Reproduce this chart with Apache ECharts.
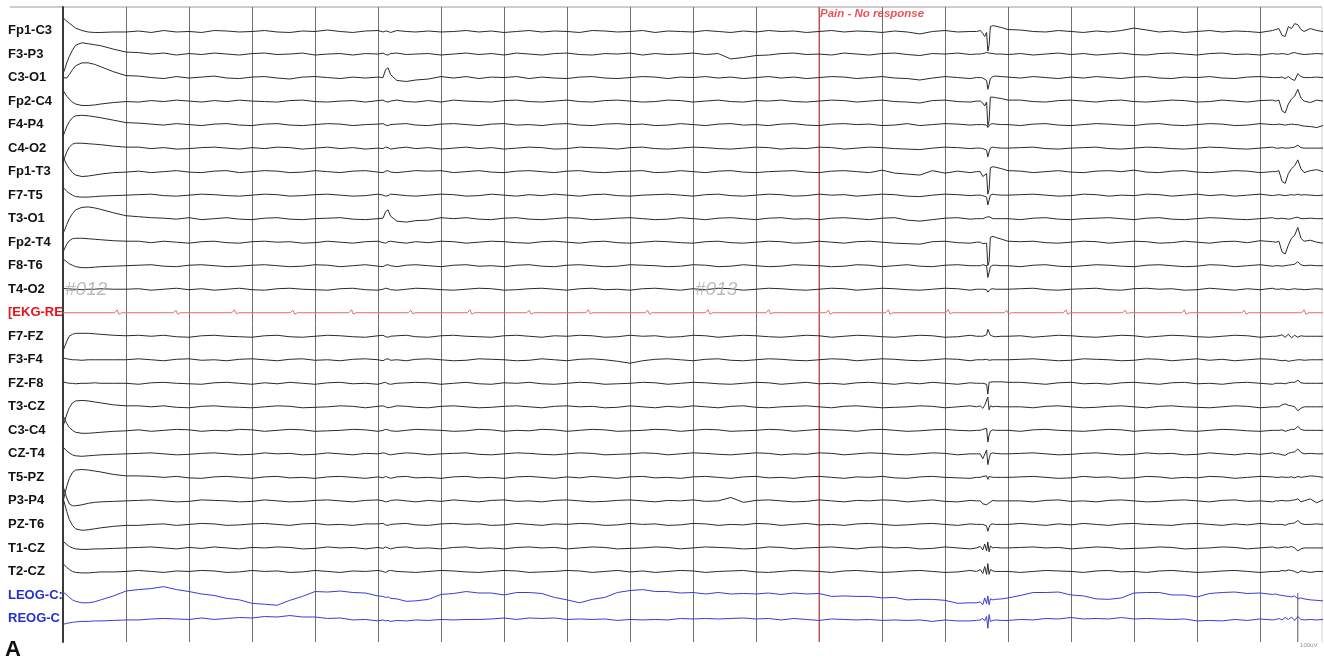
<!DOCTYPE html>
<html><head><meta charset="utf-8">
<script src="https://cdn.jsdelivr.net/npm/echarts@6/dist/echarts.min.js"></script>
<style>html,body{margin:0;padding:0;background:#fff}#c{width:1324px;height:661px}</style>
</head><body><div id="c"></div>
<script>
// ---- time base (seconds), shared by all EEG/EOG channels ----
const times = [
  0, 0.03, 0.06, 0.1, 0.15, 0.2, 0.3, 0.4, 0.5, 0.6, 0.8, 1.0,
  1.2, 1.4, 1.6, 1.8, 2.0, 2.2, 2.4, 2.6, 2.8, 3.0, 3.2, 3.4, 3.6, 3.8, 4.0, 4.2, 4.4, 4.6, 4.8,
  5.0, 5.08, 5.12, 5.16, 5.2, 5.3, 5.45, 5.6,
  5.8, 6.0, 6.2, 6.4, 6.6, 6.8, 7.0, 7.2, 7.4, 7.6, 7.8,
  8.0, 8.2, 8.4, 8.6, 8.8, 9.0, 9.2, 9.4, 9.6, 9.8, 10.0,
  10.2, 10.4, 10.6, 10.8, 11.0, 11.2, 11.4, 11.6, 11.8, 12.0, 12.2,
  12.4, 12.6, 12.8, 13.0, 13.2, 13.4, 13.6, 13.8, 14.0, 14.2, 14.4,
  14.5, 14.56, 14.6, 14.63, 14.66, 14.68, 14.7, 14.72, 14.76, 14.8, 14.9, 15.0,
  15.2, 15.4, 15.6, 15.8, 16.0, 16.2, 16.4, 16.6, 16.8, 17.0,
  17.2, 17.4, 17.6, 17.8, 18.0, 18.2, 18.4, 18.6, 18.8, 19.0, 19.2,
  19.25, 19.3, 19.35, 19.4, 19.45, 19.5, 19.55, 19.6, 19.65, 19.7, 19.8, 19.9, 20.0
];

const channelNames = ['Fp1-C3','F3-P3','C3-O1','Fp2-C4','F4-P4','C4-O2','Fp1-T3','F7-T5','T3-O1','Fp2-T4','F8-T6','T4-O2','[EKG-RE','F7-FZ','F3-F4','FZ-F8','T3-CZ','C3-C4','CZ-T4','T5-PZ','P3-P4','PZ-T6','T1-CZ','T2-CZ','LEOG-C:','REOG-C'];
const channelKind  = ['eeg','eeg','eeg','eeg','eeg','eeg','eeg','eeg','eeg','eeg','eeg','eeg','ekg','eeg','eeg','eeg','eeg','eeg','eeg','eeg','eeg','eeg','eeg','eeg','eog','eog'];

// ---- channel values in microvolts (positive = up) ----
const Fp1_C3 = [26,22,19,15,10,5,0,-3,-4,-4,-3,-3,
 -1,-4,0,-3,-2,-4,0,-1,-3,-2, 0,-3,-4,-1,-2,1,-2,-4,-1,
 0,-3,-1,-2,-4,0,-2,-3,
 -1,-3,-2,0,-3,-1,-4,-2,0,-3,-1, -2,-4,0,-1,-3,-2,0,-4,-1,-2,-3, 0,-2,-4,-1,-3,0,-2,-1,-4,-2,0, -3,-1,-2,-4,-1,-3,-7,-2,0,-3,-2,
 -2,0,-6,-12,-4,-42,-30,8,10,9,6,2,
 1,-2,-3,0,-2,-4,-1,-3,0,5, 1,-3,-1,-4,-2,0,-3,-1,-2,-4,0,
 2,4,-10,-12,8,4,14,12,2,-2,4,0,-2];
const F3_P3 = [-40,-30,-18,-5,8,18,23,21,19,17,10,4,
 3,0,2,-2,1,-1,2,0,-2,1, 2,-1,0,2,-2,0,1,-2,1,
 0,2,-1,-2,1,2,-1,0,
 1,-2,0,2,-1,1,-2,2,0,-2,1, 2,-1,-2,1,0,2,-2,1,-1,0,2, -1,1,-10,-7,-3,-2,1,2,-1,0,-2, 2,0,-2,1,2,-1,-3,1,0,2,-1,
 0,0,1,2,3,5,2,0,1,0,0,-1,
 1,-2,0,2,-1,1,-2,0,2,-1, -2,1,2,0,-2,1,2,-1,0,-2,1,
 0,0,1,0,-1,2,3,1,0,-1,0,1,0];
const C3_O1 = [0,0,-1,6,16,24,30,30,27,22,12,4,
 3,0,-2,2,-1,1,3,-1,-2,1, 2,-1,-3,1,2,0,-2,1,-1,
 1,0,16,20,6,-6,-8,-5,
 -3,2,-1,2,-2,1,0,2,-2,1,-1, -2,1,2,-1,-2,0,2,1,-2,1,0, 2,-1,1,-2,0,2,-1,1,-2,0,2, 1,-2,0,2,-1,-2,-5,-1,2,0,-2,
 0,0,-1,-2,-6,-24,-14,-2,2,3,2,1,
 -1,2,0,-2,1,-1,2,0,-2,1, 2,-1,-2,1,0,2,-1,-2,1,2,0,
 0,0,1,-2,2,-3,-6,8,2,0,0,1,0];
const Fp2_C4 = [22,16,10,4,-2,-6,-9,-9,-8,-6,-3,-1,
 -2,1,-1,2,0,-2,1,-1,2,0, -1,-2,1,2,-1,-2,0,1,-2,
 1,2,-1,-2,0,2,-1,-2,
 1,-2,2,0,-1,-2,1,2,-1,-2,0, 2,-1,-2,1,2,0,-2,-1,2,1,-2, 0,2,-1,-2,1,0,2,-1,-2,0,2, 1,-2,0,2,-1,-2,-4,1,2,-1,-2,
 0,0,-4,-10,-2,-50,-40,8,8,7,5,2,
 2,-1,-2,1,2,0,-2,1,2,-1, -2,0,2,1,-2,-1,2,0,-2,1,2,
 0,2,-20,-24,-6,4,10,24,6,0,-3,2,0];
const F4_P4 = [-24,-14,-4,6,14,18,19,18,16,14,9,4,
 3,1,-1,2,0,-2,1,2,-1,-2, 1,2,-1,-2,0,2,1,-2,0,
 1,2,-1,-2,0,1,2,-1,
 -2,1,2,0,-2,1,2,-1,0,-2,1, 2,-1,-2,1,2,0,1,-2,-1,2,0, -2,1,2,-1,0,-2,1,2,-1,-2,1, 2,0,1,-2,-1,2,-2,0,2,1,-1,
 0,0,0,-2,-1,-6,-3,1,2,1,0,0,
 -2,1,2,-1,-2,0,2,1,-1,-2, 1,2,-1,-2,0,2,1,-2,-1,2,0,
 0,1,0,-1,0,1,0,0,-2,-3,-4,-6,-2];
const C4_O2 = [-28,-18,-8,2,8,10,10,9,8,7,4,2,
 2,-1,1,-2,-1,1,2,0,-2,1, -1,2,1,-2,0,2,-1,1,-2,
 0,-1,2,1,-2,0,2,-1,
 1,-2,0,2,-1,1,-2,0,2,1,-2, -1,2,1,0,-2,1,2,-1,-2,0,2, 1,-1,-2,0,2,1,-2,0,-1,2,1, -2,0,2,1,-1,-2,-3,0,2,1,-1,
 0,0,-1,-2,-4,-18,-8,0,2,1,0,0,
 1,2,-1,-2,0,1,2,-1,-2,0, 2,1,-1,-2,0,2,1,-1,-2,0,2,
 0,0,1,0,0,1,2,6,1,0,0,0,0];
const Fp1_T3 = [30,22,14,6,-2,-7,-10,-9,-7,-5,-2,-1,
 1,-2,0,2,-1,-2,1,2,-2,0, 2,1,-2,-1,2,0,-2,1,2,
 -1,-2,1,2,-1,-2,0,2,
 1,2,-2,0,2,-1,-2,1,2,0,-2, 1,2,-1,-2,0,1,2,-2,-1,2,0, -2,1,2,-1,-2,0,1,2,-1,-2,1, 2,0,-2,3,-3,-5,-7,2,-3,1,-2,
 0,0,-10,-14,-4,-46,-36,8,10,9,6,2,
 1,-2,0,2,-1,-2,1,2,0,3, -1,-2,1,2,-1,-2,0,2,1,-2,0,
 0,2,-20,-24,-4,6,12,24,6,-2,2,4,0];
const F7_T5 = [16,12,8,4,0,-3,-4,-4,-3,-2,-1,0,
 1,2,-1,-2,0,2,1,-1,-2,0, 2,1,-2,-1,1,2,0,-2,-1,
 2,0,-2,-1,2,1,-1,-2,
 0,2,1,-2,-1,2,0,-2,1,-1,2, 0,-2,1,2,-1,-2,0,1,2,0,-2, 1,2,-1,-2,0,2,1,-2,-1,2,0, 1,-2,0,2,1,-2,-3,0,2,1,-1,
 0,0,-1,-2,-4,-20,-10,0,2,1,0,0,
 1,2,0,-2,-1,2,1,-2,0,-1, 2,1,-2,0,2,-1,1,-2,0,2,-1,
 0,1,0,-1,0,1,0,2,0,1,0,-1,0];
const T3_O1 = [-30,-22,-12,0,10,18,23,24,22,19,12,6,
 4,2,1,-1,2,-2,0,2,-1,-2, 1,2,-1,-2,0,1,2,-1,-2,
 0,1,14,18,5,-5,-7,-4,
 -3,2,0,2,-1,-2,1,2,-1,-2,0, 2,1,-2,-1,1,2,0,-2,-1,2,0, -2,1,2,0,-2,1,2,-1,0,-2,1, 2,0,-2,1,2,-3,-5,-2,1,2,-1,
 0,0,0,1,3,6,4,1,0,0,0,0,
 -2,1,2,-1,-2,0,1,2,0,-2, 1,2,-1,-2,0,2,1,-1,-2,0,2,
 0,0,1,0,-1,0,2,3,0,0,1,0,0];
const Fp2_T4 = [-20,-12,-4,3,7,8,8,7,6,5,3,2,
 2,-1,2,0,-2,1,2,-1,-2,1, 2,0,1,-2,-1,2,0,-2,1,
 2,-1,-2,1,2,0,-2,1,
 -1,2,1,-2,0,2,1,-1,-2,1,2, 0,-2,1,2,-1,-2,0,2,1,-1,-2, 1,2,-1,-2,0,2,1,-2,-1,2,0, -2,1,2,0,-2,-3,-4,1,2,-1,-2,
 0,0,-3,-6,-2,-48,-40,10,12,10,6,2,
 1,2,-1,-2,0,2,1,-2,0,2, 1,-2,-1,2,0,-2,1,2,-1,3,1,
 0,2,-20,-24,-6,8,14,30,8,2,4,0,-2];
const F8_T6 = [14,11,8,4,1,-2,-4,-4,-3,-2,-1,0,
 1,2,-1,-2,1,2,0,-2,-1,1, 2,0,-2,-1,2,1,-2,0,2,
 -1,-2,1,2,0,-2,1,2,
 0,-2,1,2,-1,0,-2,1,2,-1,-2, 1,2,0,-2,-1,2,1,0,-2,-1,2, 1,-2,-1,2,0,-2,-1,2,1,0,-2, -1,2,1,-2,0,2,-1,-2,1,2,0,
 0,0,2,3,0,-24,-14,-2,1,1,0,0,
 -2,1,2,-1,-2,0,2,1,-1,-2, 1,2,0,-2,-1,2,1,-2,0,2,-1,
 0,0,-1,0,1,2,3,8,2,0,1,0,0];
const T4_O2 = [2,2,1,1,0,0,-1,0,0,1,0,0,
 1,-2,0,2,-1,1,-2,0,2,-1, -2,1,2,0,-1,-2,1,2,-1,
 -2,0,2,1,-1,-2,0,2,
 1,-1,-2,0,2,1,-2,-1,1,2,0, -2,1,2,-1,0,-2,1,2,0,-2,1, -1,2,1,-2,0,2,1,-1,-2,0,2, 1,-2,0,2,1,-1,-2,0,2,1,-2,
 0,0,0,0,-1,-6,-3,0,1,0,0,0,
 1,2,-1,-2,0,1,2,-1,-2,1, 2,0,1,-2,-1,2,0,-2,1,-1,2,
 0,0,1,0,-1,0,1,0,0,-1,0,1,0];
const F7_FZ = [-30,-20,-10,0,4,6,6,6,5,4,2,1,
 2,0,2,-1,-2,1,2,0,-1,-2, 1,2,-1,-2,0,2,1,-1,-2,
 1,2,-1,-2,0,1,2,-1,
 -2,1,2,0,-1,-2,1,2,0,-2,1, 0,2,1,-2,-1,2,0,1,-2,-1,2, 1,-2,0,2,1,-1,-2,0,2,1,-2, 0,2,1,-1,-2,0,2,1,-2,-1,2,
 0,0,0,1,3,14,8,2,0,-1,0,0,
 1,-2,0,2,1,-1,-2,0,2,1, -2,0,2,1,-1,-2,0,2,1,-2,0,
 0,1,3,-2,4,-3,2,-2,1,0,0,0,0];
const F3_F4 = [4,3,2,1,0,0,-1,0,0,0,0,0,
 2,0,-2,1,2,-1,0,-2,1,2, 0,-2,1,2,-1,0,-2,1,2,
 0,-2,1,2,-1,0,-2,1,
 2,0,-2,-1,2,1,0,-2,-1,2,0, -2,1,2,0,-3,-7,-2,1,2,0,-2, 1,2,-1,-2,0,2,1,-1,-2,0,2, 1,-2,0,2,1,-1,-2,0,2,1,-2,
 0,0,0,0,1,2,-1,0,0,0,0,0,
 1,2,0,-2,-1,2,1,0,-2,-1, 2,1,-2,0,2,-1,1,-2,0,2,1,
 0,-1,-2,-1,-3,-2,-1,0,0,-1,0,0,0];
const FZ_F8 = [3,2,1,0,0,-1,0,0,1,0,0,0,
 -2,1,2,0,-1,-2,1,2,0,-2, 1,-1,2,0,-2,1,2,-1,0,
 -2,1,2,-1,-2,0,1,2,
 1,-2,0,2,-1,-2,1,0,2,-1,-2, 0,2,1,-2,-1,0,2,1,-2,0,2, 1,-1,-2,0,2,1,-2,0,2,-1,0, -2,1,2,0,-2,1,-1,2,0,-2,1,
 0,0,0,0,-2,-22,2,3,3,3,3,2,
 2,0,-2,1,2,-1,0,-2,1,2, 0,-2,1,2,-1,0,-2,1,2,0,-2,
 0,0,0,-1,1,2,2,6,1,0,0,0,0];
const T3_CZ = [-40,-28,-15,-2,8,12,13,12,10,8,4,2,
 2,0,2,-1,-2,1,2,0,-1,-2, 0,2,1,-2,-1,0,2,1,-2,
 1,2,0,-2,-1,2,1,-1,
 -2,1,2,0,-2,-1,1,2,0,-2,1, 2,0,1,-2,-1,2,0,-2,1,-1,2, 0,-2,1,2,-1,-2,0,1,2,0,-2, 1,2,0,-2,-1,0,2,1,-2,0,2,
 0,2,-3,3,6,20,-6,2,0,1,0,0,
 0,-2,1,2,0,-2,-1,1,2,0, -2,1,2,0,-1,-2,0,2,1,-2,0,
 0,0,4,6,3,2,0,-8,-3,0,0,0,0];
const C3_C4 = [30,22,14,6,0,-4,-6,-6,-5,-4,-2,-1,
 1,-2,0,2,1,-2,0,-1,2,1, -2,0,2,1,-2,-1,0,2,1,
 -2,0,2,1,-1,-2,0,2,
 1,0,-2,-1,2,1,-2,0,-1,2,1, -2,0,2,1,-2,-1,0,2,1,-2,0, 2,1,-2,-1,0,2,1,-2,0,2,1, 0,-2,1,2,0,-2,-1,1,2,0,-1,
 0,0,2,3,4,-24,-10,-2,1,0,0,0,
 -2,1,2,0,-1,-2,0,2,1,-2, 0,1,2,-1,-2,0,2,1,-1,-2,0,
 0,0,1,-2,0,2,2,8,2,0,0,0,0];
const CZ_T4 = [14,10,6,2,-2,-4,-5,-4,-3,-2,-1,0,
 1,2,0,-2,-1,1,2,0,-2,-1, 2,0,1,-2,-1,2,0,-2,1,
 0,2,1,-1,-2,0,2,1,
 -2,0,1,2,-1,-2,0,2,1,-1,-2, 0,2,1,-2,-1,0,2,1,-2,0,2, 1,-1,-2,0,2,1,-2,0,-1,2,1, -2,0,2,1,-1,-2,0,2,1,-2,0,
 0,0,-10,-6,8,-22,-10,0,2,1,0,0,
 1,2,0,-2,-1,1,2,0,-2,-1, 2,0,1,-2,-1,2,0,-2,1,-1,2,
 0,0,-2,-3,1,3,4,10,3,0,1,0,0];
const T5_PZ = [-50,-34,-18,-2,10,15,16,15,13,11,6,3,
 3,2,0,2,-1,-2,1,2,0,-2, 1,2,-1,0,-2,1,2,0,-2,
 1,-1,2,0,-2,1,2,-1,
 0,-2,1,2,-1,0,-2,1,2,0,-2, 1,-1,2,0,-2,1,2,-1,0,-2,1, 2,0,-2,1,2,-1,0,-2,1,2,0, -2,1,0,2,-1,-2,1,2,0,-1,-2,
 0,0,2,-2,3,-4,2,0,0,0,0,0,
 1,2,0,-2,-1,2,0,1,-2,-1, 2,1,-2,0,-1,2,1,-2,0,2,1,
 0,0,1,0,0,1,-1,2,0,1,3,2,0];
const P3_P4 = [30,18,6,-6,-10,-10,-8,-5,-3,-2,-1,0,
 1,2,0,-2,-1,2,1,0,-2,-1, 2,0,-2,-1,1,2,0,-2,1,
 2,0,-2,-1,1,2,0,-2,
 1,-1,2,0,-2,1,2,-1,0,-2,1, 2,0,-2,-1,1,2,0,-2,1,0,2, -1,0,7,-3,1,2,0,-2,-1,2,0, -2,1,0,2,1,-2,0,2,-1,-2,1,
 0,0,-6,-4,-8,-10,-4,0,1,0,0,0,
 0,-2,1,2,-1,0,-2,1,2,0, -2,-1,1,2,0,-2,1,2,-1,0,-2,
 0,0,1,0,0,1,2,4,-2,0,4,-4,2];
const PZ_T6 = [54,40,26,10,-2,-9,-12,-11,-9,-7,-4,-2,
 -2,0,1,-2,0,2,1,-2,-1,1, 2,0,-2,1,2,-1,0,-2,1,
 1,2,-1,-2,0,1,2,-1,
 -2,1,2,0,1,-2,-1,2,0,-2,1, 0,2,1,-2,-1,2,0,1,-2,-1,2, 1,-2,0,-1,2,1,-2,0,2,-1,0, -2,1,2,0,-2,-1,1,2,0,-2,1,
 0,0,0,-1,-3,-14,-6,0,1,0,0,0,
 2,0,-2,1,-1,2,0,-2,1,2, 0,-1,-2,1,2,0,-2,1,-1,2,0,
 0,0,0,-2,1,2,3,8,2,0,0,1,0];
const T1_CZ = [14,10,7,3,0,-2,-3,-3,-2,-2,-1,0,
 1,2,0,-2,1,-1,2,0,-2,1, 0,2,1,-2,-1,2,0,1,-2,
 1,-1,2,0,-2,1,2,-1,
 0,-2,1,2,-1,0,-2,1,2,0,1, -2,0,2,1,-2,-1,0,2,1,-2,0, 2,1,0,-2,-1,2,1,-2,0,1,2, 0,-2,1,2,0,1,-2,-1,2,0,-2,
 0,3,-4,8,-6,12,-8,4,0,1,0,0,
 1,2,0,1,-2,0,2,1,-2,-1, 0,2,1,-2,-1,0,2,1,-2,0,2,
 0,0,1,2,1,3,0,-6,-2,0,0,0,0];
const T2_CZ = [16,12,8,4,0,-2,-3,-3,-2,-1,-1,0,
 2,0,-2,1,0,2,1,-2,-1,2, 0,1,-2,-1,2,0,-2,1,0,
 2,0,-2,1,2,0,-1,-2,
 0,2,1,-1,-2,0,2,1,-2,-1,0, 2,1,-2,0,2,-1,1,-2,0,2,1, -2,0,1,2,-1,-2,0,2,1,0,-2, 1,2,0,-2,-1,1,2,0,-2,-1,2,
 0,4,-4,10,-6,16,-6,4,1,0,0,0,
 -2,0,2,1,0,-2,1,2,-1,0, -2,1,2,0,-2,-1,1,2,0,-2,0,
 0,0,2,1,3,2,0,-3,1,0,-2,0,0];
const LEOG_C = [6,3,0,-5,-10,-13,-16,-16,-14,-10,-2,8,
 11,13,17,11,7,2,-1,-7,-10,-17, -19,-21,-11,-3,7,6,8,5,4,
 -2,-3,-5,-4,-7,-8,-13,-12,
 -9,1,3,7,4,4,0,5,5,3,-5, -10,-16,-9,-5,5,9,11,7,7,4,5, 2,5,2,3,2,4,1,4,2,3,-3, -2,-3,-3,-6,-5,-10,-9,-9,-11,-17,-16,
 -16,-14,-20,-6,-18,-2,-20,-8,-10,-9,-8,-6,
 -1,5,5,6,0,-2,-8,-9,-6,4, 5,5,0,0,-4,3,5,6,3,4,1,
 2,0,-1,-2,-3,-4,-2,-8,-6,-8,-10,-11,-12];
const REOG_C = [-12,-11,-10,-9,-8,-7,-6,-6,-5,-5,-4,-3,
 -3,-1,0,-1,-2,1,-2,0,2,1, 4,3,6,3,3,0,1,-3,-2,
 -5,-3,-5,-4,-6,-4,-5,-3,
 -4,-2,-3,-2,-2,-1,1,-2,1,0,1, -2,-1,-2,-1,-4,-2,-3,-2,-3,0,-1, 0,-1,0,1,-1,0,-3,0,-2,-4,-1, -2,-3,-2,-4,-3,-4,-3,-6,-3,-5,-5,
 -4,-3,0,-5,4,-20,8,-6,-4,-3,-4,-4,
 -2,-3,0,-1,2,-1,0,-1,2,-1, 0,-1,-2,-1,-5,-4,-5,-2,-4,-1,-3,
 -2,0,-3,2,-2,3,-4,4,-2,-3,-2,-3,-2];

// ---- EKG channel (own time base) ----
const ekgTimes = [0,
 0.82,0.86,0.89,0.93, 1.75,1.79,1.82,1.86, 2.68,2.72,2.75,2.79, 3.61,3.65,3.68,3.72,
 4.54,4.58,4.61,4.65, 5.48,5.52,5.55,5.59, 6.42,6.46,6.49,6.53, 7.36,7.40,7.43,7.47,
 8.30,8.34,8.37,8.41, 9.24,9.28,9.31,9.35, 10.20,10.24,10.27,10.31, 11.16,11.20,11.23,11.27,
 12.11,12.15,12.18,12.22, 13.06,13.10,13.13,13.17, 14.01,14.05,14.08,14.12, 14.94,14.98,15.01,15.05,
 15.88,15.92,15.95,15.99, 16.82,16.86,16.89,16.93, 17.76,17.80,17.83,17.87, 18.71,18.75,18.78,18.82,
 19.66,19.70,19.73,19.77, 20];
const ekgValues = [0,
 0,6,-3,0, 0,5,-3,0, 0,6,-2,0, 0,5,-3,0,
 0,6,-3,0, 0,5,-2,0, 0,6,-3,0, 0,5,-3,0,
 0,6,-2,0, 0,5,-3,0, 0,6,-3,0, 0,6,-2,0,
 0,5,-3,0, 0,6,-3,0, 0,6,-2,0, 0,5,-3,0,
 0,6,-3,0, 0,5,-2,0, 0,6,-3,0, 0,5,-3,0,
 0,6,-3,0, 0];

// ---- annotations ----
const eventMarkers = [{ t: 12, text: 'Pain - No response' }];
const pageMarkers = [{ t: 0, text: '#012' }, { t: 10, text: '#013' }];
const pageMarkerRow = 11;
const scaleBar = { t: 19.6, uV: 100, label: '100uV' };
const uVPerRow = 48;
const panelLabel = 'A';

const channelValues = [Fp1_C3,F3_P3,C3_O1,Fp2_C4,F4_P4,C4_O2,Fp1_T3,F7_T5,T3_O1,Fp2_T4,F8_T6,T4_O2,null,
  F7_FZ,F3_F4,FZ_F8,T3_CZ,C3_C4,CZ_T4,T5_PZ,P3_P4,PZ_T6,T1_CZ,T2_CZ,LEOG_C,REOG_C];

const kindColor = { eeg: '#2a2a2a', ekg: '#e46a6a', eog: '#3b3bd8' };
const labelColor = { eeg: '#111111', ekg: '#e3141b', eog: '#2430d0' };
const FONT = "'Liberation Sans', Arial, sans-serif";
const nRows = channelNames.length;
const rowMax = nRows;

const series = [];
channelNames.forEach((name, i) => {
  const kind = channelKind[i];
  let data;
  if (kind === 'ekg') {
    data = ekgTimes.map((t, k) => [t, i - ekgValues[k] / uVPerRow]);
  } else {
    const v = channelValues[i];
    if (v.length !== times.length) console.warn(name, v.length, times.length);
    data = times.map((t, k) => [t, i - v[k] / uVPerRow]);
  }
  series.push({
    type: 'line', name, data, showSymbol: false, silent: true, animation: false,
    lineStyle: { color: kindColor[kind], width: 1 }, z: 3
  });
});

eventMarkers.forEach(ev => {
  series.push({ type: 'line', data: [[ev.t, -1], [ev.t, rowMax]], showSymbol: false, silent: true,
    animation: false, lineStyle: { color: '#e8494b', width: 1 }, z: 2 });
  series.push({ type: 'scatter', data: [[ev.t, -0.7]], symbolSize: 0, silent: true, animation: false, clip: false,
    label: { show: true, position: 'right', distance: 1, formatter: ev.text, color: '#e8262c',
      fontSize: 11.5, fontStyle: 'italic', fontWeight: 'bold', fontFamily: FONT }, z: 5 });
});
series.push({ type: 'scatter', data: pageMarkers.map(p => [p.t, pageMarkerRow, p.text]), symbolSize: 0,
  silent: true, animation: false, clip: false,
  label: { show: true, position: 'right', distance: 2, formatter: p => p.data[2], color: '#ababab',
    fontSize: 19, fontStyle: 'italic', fontFamily: FONT }, z: 4 });
series.push({ type: 'line', data: [[scaleBar.t, rowMax - scaleBar.uV / uVPerRow], [scaleBar.t, rowMax]],
  showSymbol: false, silent: true, animation: false, lineStyle: { color: '#555', width: 1 }, z: 4 });
series.push({ type: 'scatter', data: [[scaleBar.t + 0.02, rowMax + 0.15]], symbolSize: 0, silent: true,
  animation: false, clip: false,
  label: { show: true, position: 'right', distance: 1, formatter: scaleBar.label, color: '#777',
    fontSize: 6, fontFamily: FONT }, z: 4 });

const rich = {};
Object.keys(labelColor).forEach(k => {
  rich[k] = { color: labelColor[k], fontWeight: 'bold', fontSize: 13, fontFamily: FONT };
});

const chart = echarts.init(document.getElementById('c'), null, { renderer: 'canvas' });
chart.setOption({
  animation: false,
  backgroundColor: '#ffffff',
  title: { text: panelLabel, left: 5, top: 639, padding: 0,
    textStyle: { fontSize: 22, fontWeight: 'bold', color: '#111', fontFamily: FONT } },
  grid: { left: 63, right: 1, top: 7, bottom: 19, containLabel: false, outerBoundsMode: 'none' },
  xAxis: { type: 'value', min: 0, max: 20, interval: 1,
    axisLabel: { show: false }, axisTick: { show: false }, axisLine: { show: false },
    splitLine: { show: true, showMaxLine: false, lineStyle: { color: '#6f6f6f', width: 1 } } },
  yAxis: { type: 'value', inverse: true, min: -1, max: rowMax, interval: 1,
    axisLine: { show: true, lineStyle: { color: '#3a3a3a', width: 2 } },
    axisTick: { show: false }, splitLine: { show: false },
    axisLabel: { show: true, align: 'left', margin: 55, rich,
      formatter: v => {
        const i = Math.round(v);
        if (Math.abs(v - i) > 1e-6 || i < 0 || i >= nRows) return '';
        return '{' + channelKind[i] + '|' + channelNames[i] + '}';
      } } },
  graphic: [
    { type: 'line', shape: { x1: 10, y1: 7, x2: 1322, y2: 7 }, style: { stroke: '#9a9a9a', lineWidth: 1 }, silent: true },
    { type: 'line', shape: { x1: 1322, y1: 7, x2: 1322, y2: 642 }, style: { stroke: '#d4d4d4', lineWidth: 1 }, silent: true }
  ],
  series
});
</script></body></html>
